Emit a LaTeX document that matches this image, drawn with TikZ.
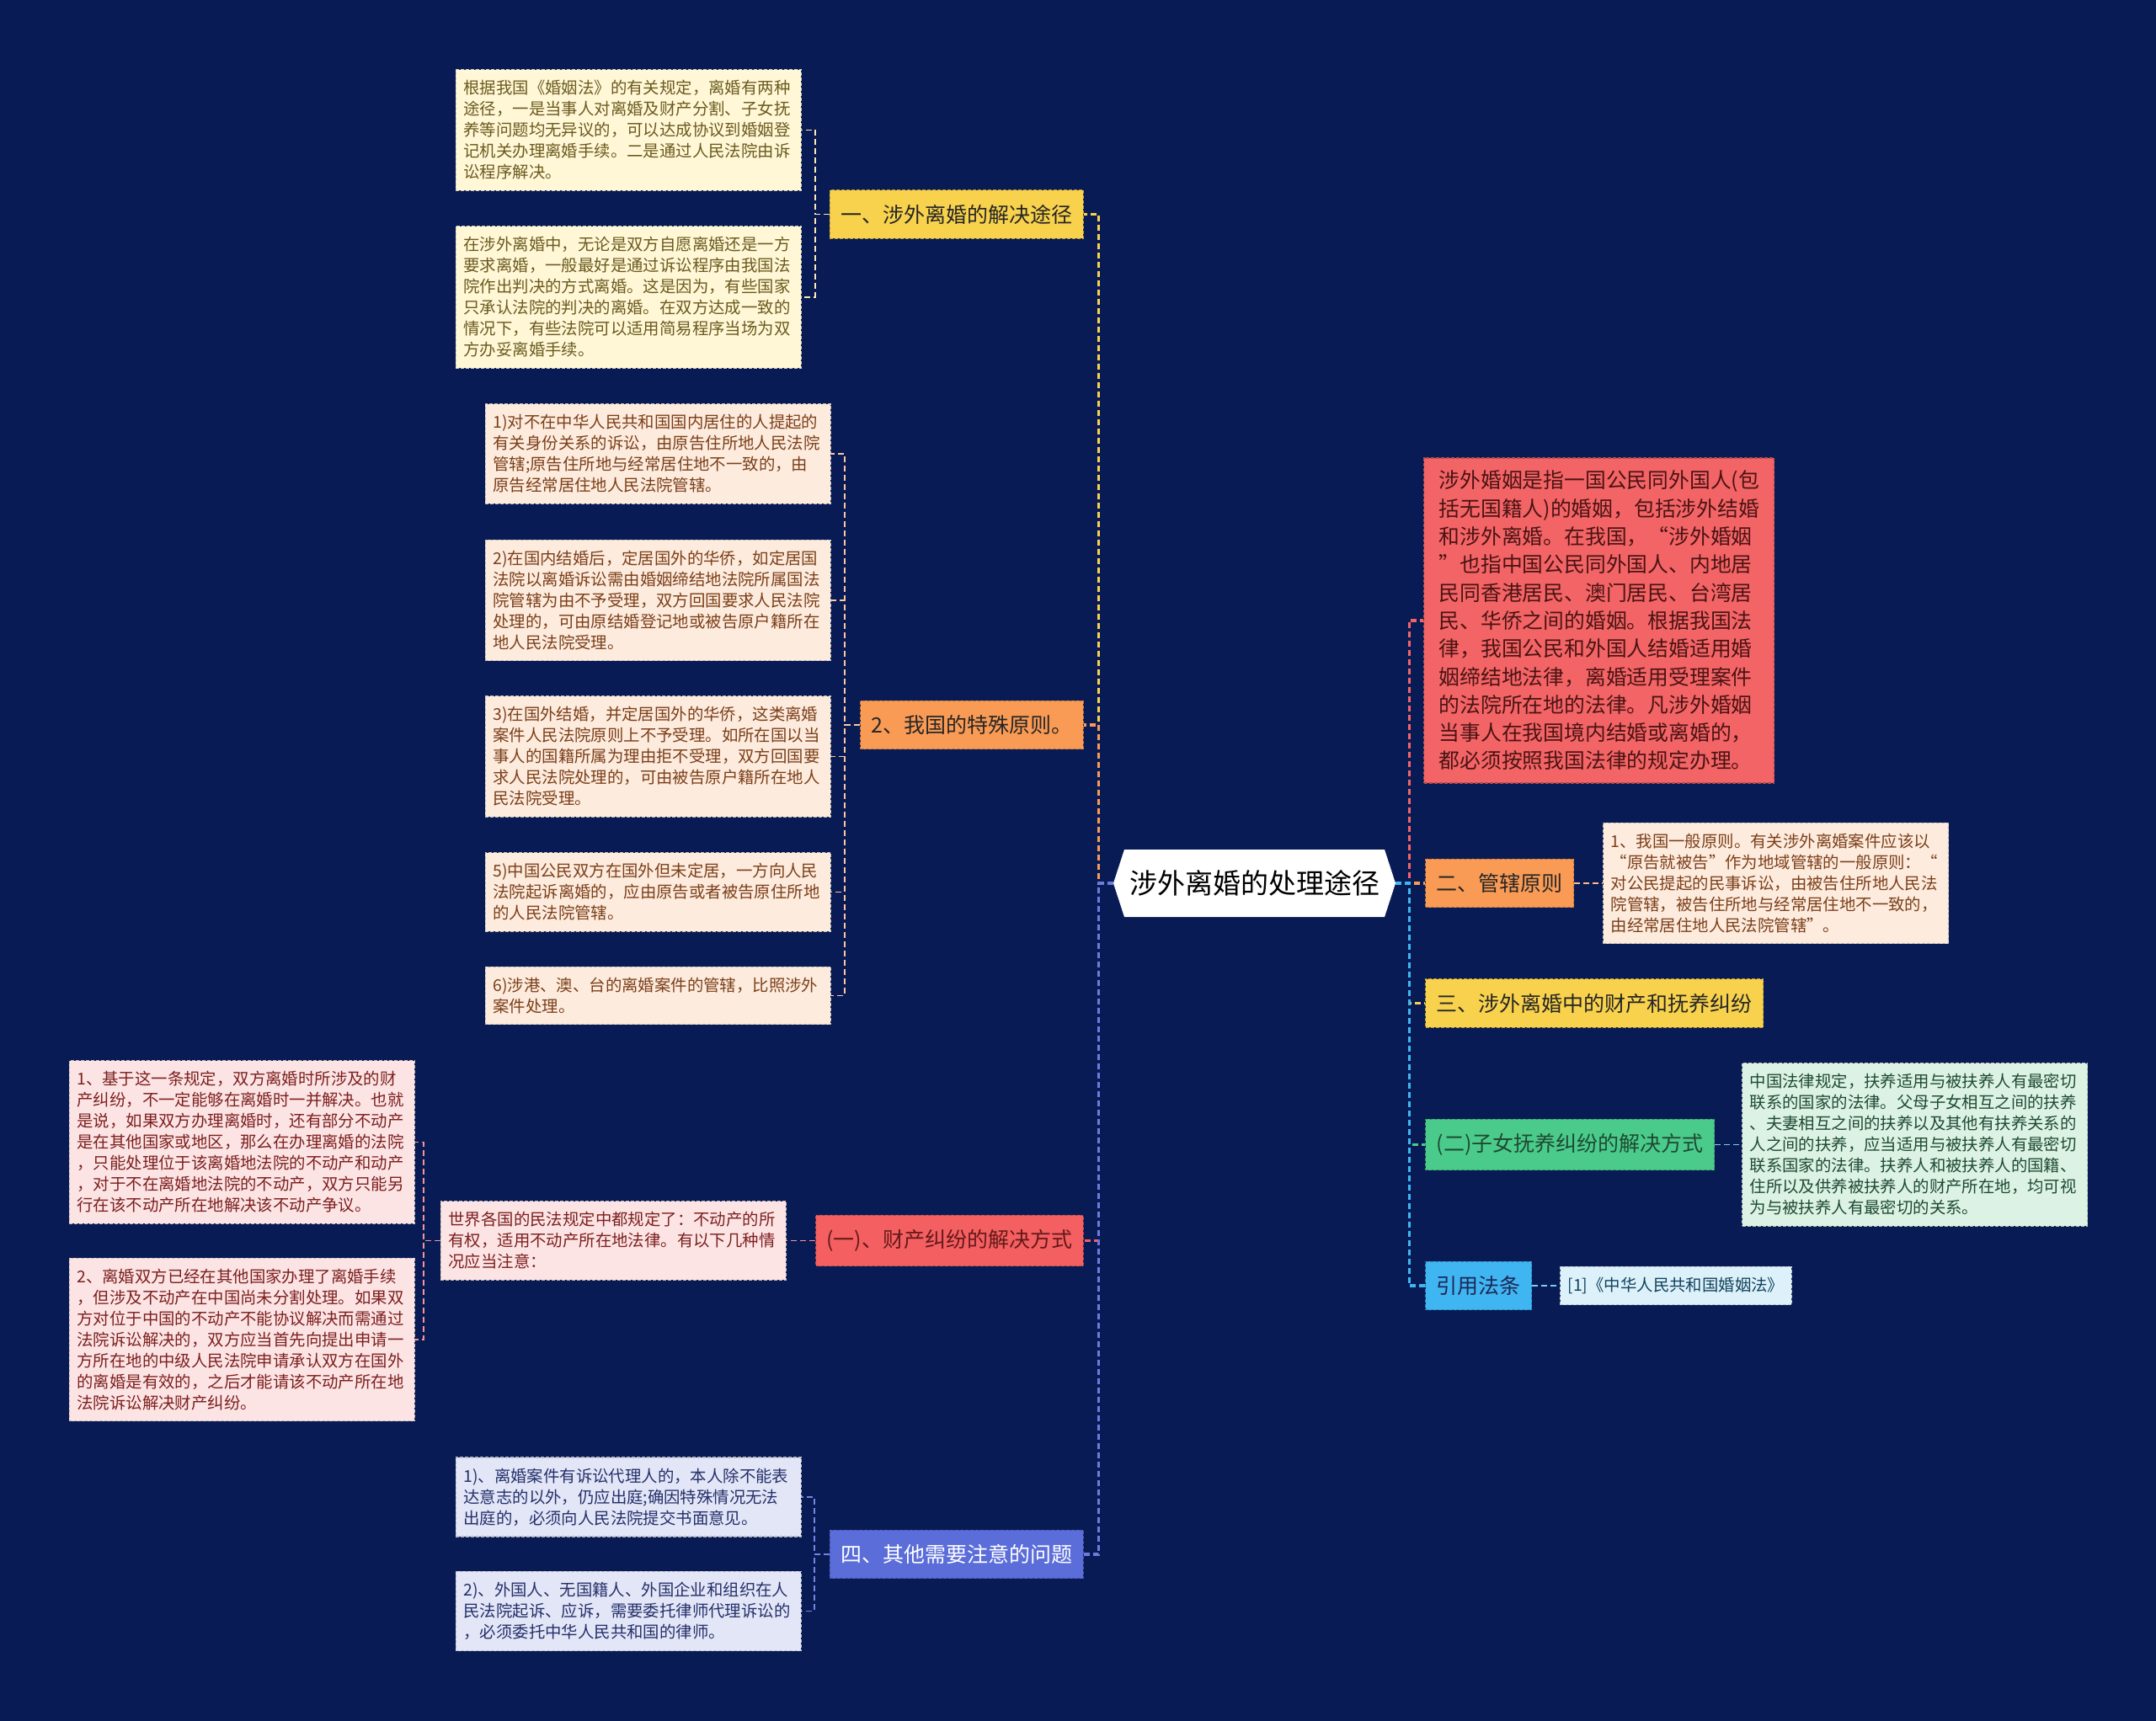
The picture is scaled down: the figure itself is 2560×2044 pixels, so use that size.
\documentclass[tikz,border=0pt]{standalone}
\usepackage{fontspec}
\setmainfont{Noto Sans CJK SC}
\usetikzlibrary{calc,shapes.symbols}

\definecolor{bgnavy}{HTML}{081B54}
\definecolor{yelfill}{HTML}{F8D24C}
\definecolor{orgfill}{HTML}{FA9B55}
\definecolor{redfill}{HTML}{F45F61}
\definecolor{blufill}{HTML}{5B6DD9}
\definecolor{grnfill}{HTML}{4BCB8B}
\definecolor{skyfill}{HTML}{3FB6F2}
\definecolor{pinkbox}{HTML}{F26466}
\definecolor{lyel}{HTML}{FFF7D6}
\definecolor{lorg}{HTML}{FDEBDD}
\definecolor{lred}{HTML}{FCE4E4}
\definecolor{lblu}{HTML}{E2E6F7}
\definecolor{lgrn}{HTML}{DCF2E4}
\definecolor{lsky}{HTML}{DDF1FB}
\definecolor{txtorg}{HTML}{7B3F1A}
\definecolor{txtred}{HTML}{7D1F1F}
\definecolor{txtblu}{HTML}{25306A}
\definecolor{txtgrn}{HTML}{1E4A32}
\definecolor{oliv}{HTML}{6B5A1F}

\begin{document}
\begin{tikzpicture}[x=1pt,y=-1pt,
    rootnode/.style={shape=signal, signal to=west and east, signal pointer angle=144,
        fill=white, text=black, inner xsep=6pt, inner ysep=0pt, minimum height=80pt,
        font=\fontsize{33}{40}\selectfont},
    branch/.style={rectangle, line width=1.2pt, dash pattern=on 4pt off 2pt,
        inner xsep=13pt, inner ysep=17pt, font=\fontsize{25}{30}\selectfont},
    leafbox/.style={rectangle, line width=1.2pt, dash pattern=on 4pt off 2pt, align=left,
        text width=392pt, inner xsep=9pt, inner ysep=12.8pt, font=\fontsize{19.4}{25}\selectfont},
    leafyel/.style={leafbox, fill=lyel, draw=lyel!70!black!60, text=oliv},
    leaforg/.style={leafbox, fill=lorg, draw=lorg!70!black!70, text=txtorg},
    leafred/.style={leafbox, fill=lred, draw=lred!70!black!70, text=txtred},
    leafblu/.style={leafbox, fill=lblu, draw=lblu!70!black!70, text=txtblu},
    leafgrn/.style={leafbox, fill=lgrn, draw=lgrn!70!black!70, text=txtgrn},
    trunk/.style={line width=3.2pt, dash pattern=on 7pt off 4pt},
    twig/.style={line width=1.8pt, dash pattern=on 7pt off 4pt}]

\fill[bgnavy] (0,0) rectangle (2560,2044);

\node[rootnode] (root) at (1489.5,1049) {涉外离婚的处理途径};

\node[branch, fill=yelfill, draw=yelfill!75!black, text=black!85, anchor=east] (b1) at (1287,254.5) {一、涉外离婚的解决途径};
\node[branch, fill=orgfill, draw=orgfill!75!black, text=black!85, anchor=east] (b2) at (1287,861) {2、我国的特殊原则。};
\node[branch, fill=redfill, draw=redfill!75!black, text=txtred!80!black, anchor=east] (b3) at (1287,1473.5) {(一)、财产纠纷的解决方式};
\node[branch, fill=blufill, draw=blufill!75!black, text=white, anchor=east] (b4) at (1287,1846) {四、其他需要注意的问题};

\node[leafbox, fill=pinkbox, draw=pinkbox!75!black, text=txtred!60!black, text width=380pt,
    inner xsep=18pt, inner ysep=15pt, font=\fontsize{24.8}{33.3}\selectfont, anchor=west] (rb0) at (1690,737) {涉外婚姻是指一国公民同外国人(包\\
括无国籍人)的婚姻，包括涉外结婚\\
和涉外离婚。在我国，“涉外婚姻\\
”也指中国公民同外国人、内地居\\
民同香港居民、澳门居民、台湾居\\
民、华侨之间的婚姻。根据我国法\\
律，我国公民和外国人结婚适用婚\\
姻缔结地法律，离婚适用受理案件\\
的法院所在地的法律。凡涉外婚姻\\
当事人在我国境内结婚或离婚的，\\
都必须按照我国法律的规定办理。};
\node[branch, fill=orgfill, draw=orgfill!75!black, text=black!85, anchor=west] (rb1) at (1692,1049) {二、管辖原则};
\node[branch, fill=yelfill, draw=yelfill!75!black, text=black!85, anchor=west] (rb2) at (1692,1191.5) {三、涉外离婚中的财产和抚养纠纷};
\node[branch, fill=grnfill, draw=grnfill!75!black, text=txtgrn, anchor=west] (rb3) at (1692,1359.5) {(二)子女抚养纠纷的解决方式};
\node[branch, fill=skyfill, draw=skyfill!75!black, text=txtblu!80!black, anchor=west] (rb4) at (1692,1527) {引用法条};

\node[leafyel, anchor=east] (l1a) at (952,154.5) {根据我国《婚姻法》的有关规定，离婚有两种\\
途径，一是当事人对离婚及财产分割、子女抚\\
养等问题均无异议的，可以达成协议到婚姻登\\
记机关办理离婚手续。二是通过人民法院由诉\\
讼程序解决。};
\node[leafyel, anchor=east] (l1b) at (952,353) {在涉外离婚中，无论是双方自愿离婚还是一方\\
要求离婚，一般最好是通过诉讼程序由我国法\\
院作出判决的方式离婚。这是因为，有些国家\\
只承认法院的判决的离婚。在双方达成一致的\\
情况下，有些法院可以适用简易程序当场为双\\
方办妥离婚手续。};

\node[leaforg, anchor=east] (l2a) at (987,539) {1)对不在中华人民共和国国内居住的人提起的\\
有关身份关系的诉讼，由原告住所地人民法院\\
管辖;原告住所地与经常居住地不一致的，由\\
原告经常居住地人民法院管辖。};
\node[leaforg, anchor=east] (l2b) at (987,713) {2)在国内结婚后，定居国外的华侨，如定居国\\
法院以离婚诉讼需由婚姻缔结地法院所属国法\\
院管辖为由不予受理，双方回国要求人民法院\\
处理的，可由原结婚登记地或被告原户籍所在\\
地人民法院受理。};
\node[leaforg, anchor=east] (l2c) at (987,898.5) {3)在国外结婚，并定居国外的华侨，这类离婚\\
案件人民法院原则上不予受理。如所在国以当\\
事人的国籍所属为理由拒不受理，双方回国要\\
求人民法院处理的，可由被告原户籍所在地人\\
民法院受理。};
\node[leaforg, anchor=east] (l2d) at (987,1059.5) {5)中国公民双方在国外但未定居，一方向人民\\
法院起诉离婚的，应由原告或者被告原住所地\\
的人民法院管辖。};
\node[leaforg, anchor=east] (l2e) at (987,1182.5) {6)涉港、澳、台的离婚案件的管辖，比照涉外\\
案件处理。};

\node[leafred, anchor=east] (l3) at (934,1473.5) {世界各国的民法规定中都规定了：不动产的所\\
有权，适用不动产所在地法律。有以下几种情\\
况应当注意：};
\node[leafred, anchor=east] (l3a) at (493,1356.5) {1、基于这一条规定，双方离婚时所涉及的财\\
产纠纷，不一定能够在离婚时一并解决。也就\\
是说，如果双方办理离婚时，还有部分不动产\\
是在其他国家或地区，那么在办理离婚的法院\\
，只能处理位于该离婚地法院的不动产和动产\\
，对于不在离婚地法院的不动产，双方只能另\\
行在该不动产所在地解决该不动产争议。};
\node[leafred, anchor=east] (l3b) at (493,1591) {2、离婚双方已经在其他国家办理了离婚手续\\
，但涉及不动产在中国尚未分割处理。如果双\\
方对位于中国的不动产不能协议解决而需通过\\
法院诉讼解决的，双方应当首先向提出申请一\\
方所在地的中级人民法院申请承认双方在国外\\
的离婚是有效的，之后才能请该不动产所在地\\
法院诉讼解决财产纠纷。};

\node[leafblu, anchor=east] (l4a) at (952,1778) {1)、离婚案件有诉讼代理人的，本人除不能表\\
达意志的以外，仍应出庭;确因特殊情况无法\\
出庭的，必须向人民法院提交书面意见。};
\node[leafblu, anchor=east] (l4b) at (952,1913.5) {2)、外国人、无国籍人、外国企业和组织在人\\
民法院起诉、应诉，需要委托律师代理诉讼的\\
，必须委托中华人民共和国的律师。};

\node[leaforg, anchor=west] (r2) at (1903,1049) {1、我国一般原则。有关涉外离婚案件应该以\\
“原告就被告”作为地域管辖的一般原则：“\\
对公民提起的民事诉讼，由被告住所地人民法\\
院管辖，被告住所地与经常居住地不一致的，\\
由经常居住地人民法院管辖”。};
\node[leafgrn, anchor=west] (r8) at (2068,1359.5) {中国法律规定，扶养适用与被扶养人有最密切\\
联系的国家的法律。父母子女相互之间的扶养\\
、夫妻相互之间的扶养以及其他有扶养关系的\\
人之间的扶养，应当适用与被扶养人有最密切\\
联系国家的法律。扶养人和被扶养人的国籍、\\
住所以及供养被扶养人的财产所在地，均可视\\
为与被扶养人有最密切的关系。};
\node[leafbox, text width=, fill=lsky, draw=lsky!70!black!70, text=txtblu!70!cyan!60!black, anchor=west] (r9) at (1852,1527) {[1]《中华人民共和国婚姻法》};

\coordinate (lt) at ($(root.west)+(-17,0)$);
\coordinate (rt) at ($(root.east)+(16,0)$);

\draw[trunk, yelfill] (root.west) -- (lt) |- (b1.east);
\draw[trunk, orgfill] (root.west) -- (lt) |- (b2.east);
\draw[trunk, redfill] (root.west) -- (lt) |- (b3.east);
\draw[trunk, blufill!90!white] (root.west) -- (lt) |- (b4.east);

\draw[trunk, pinkbox] (root.east) -- (rt) |- (rb0.west);
\draw[trunk, orgfill] (root.east) -- (rt) |- (rb1.west);
\draw[trunk, yelfill] (root.east) -- (rt) |- (rb2.west);
\draw[trunk, grnfill] (root.east) -- (rt) |- (rb3.west);
\draw[trunk, skyfill] (root.east) -- (rt) |- (rb4.west);

\coordinate (j1) at ($(b1.west)+(-17,0)$);
\coordinate (j2) at ($(b2.west)+(-18,0)$);
\coordinate (j3) at ($(l3.west)+(-20,0)$);
\coordinate (j4) at ($(b4.west)+(-18,0)$);

\draw[twig, lyel!85!orange] (b1.west) -- (j1) |- (l1a.east);
\draw[twig, lyel!85!orange] (b1.west) -- (j1) |- (l1b.east);
\draw[twig, orgfill!45!lorg] (b2.west) -- (j2) |- (l2a.east);
\draw[twig, orgfill!45!lorg] (b2.west) -- (j2) |- (l2b.east);
\draw[twig, orgfill!45!lorg] (b2.west) -- (j2) |- (l2c.east);
\draw[twig, orgfill!45!lorg] (b2.west) -- (j2) |- (l2d.east);
\draw[twig, orgfill!45!lorg] (b2.west) -- (j2) |- (l2e.east);
\draw[twig, redfill!60!lred] (b3.west) -- (l3.east);
\draw[twig, redfill!60!lred] (l3.west) -- (j3) |- (l3a.east);
\draw[twig, redfill!60!lred] (l3.west) -- (j3) |- (l3b.east);
\draw[twig, blufill!80!lblu] (b4.west) -- (j4) |- (l4a.east);
\draw[twig, blufill!80!lblu] (b4.west) -- (j4) |- (l4b.east);

\draw[twig, orgfill!60!lorg] (rb1.east) -- (r2.west);
\draw[twig, grnfill!40!skyfill!70!white] (rb3.east) -- (r8.west);
\draw[twig, skyfill!70!white] (rb4.east) -- (r9.west);
\end{tikzpicture}
\end{document}
